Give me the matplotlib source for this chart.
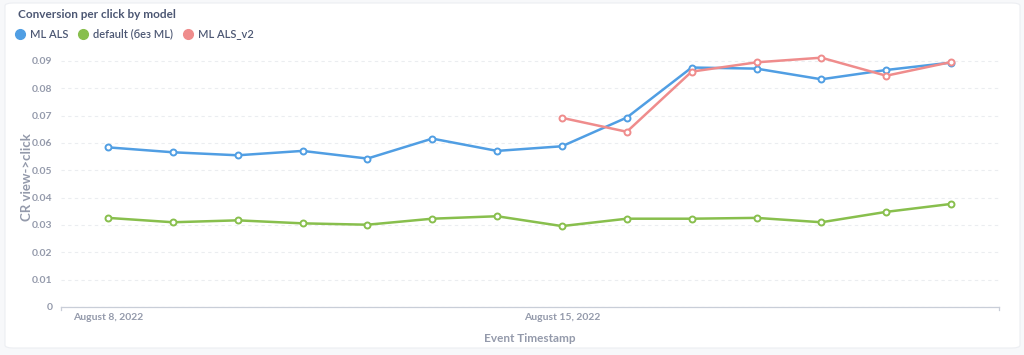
import numpy as np
import matplotlib.pyplot as plt
import matplotlib.dates as mdates
from matplotlib.lines import Line2D
from matplotlib.patches import FancyBboxPatch

# dane
dates = np.arange(np.datetime64('2022-08-08'), np.datetime64('2022-08-22'))
ml_als = [0.0584, 0.0566, 0.0555, 0.0571, 0.0543, 0.0616, 0.0571,
          0.0588, 0.0693, 0.0876, 0.0872, 0.0833, 0.0867, 0.0894]
default_ml = [0.0326, 0.0310, 0.0317, 0.0306, 0.0301, 0.0323, 0.0332,
              0.0296, 0.0323, 0.0323, 0.0326, 0.0310, 0.0348, 0.0377]
ml_als_v2_dates = dates[7:]
ml_als_v2 = [0.0692, 0.0641, 0.0861, 0.0895, 0.0912, 0.0846, 0.0896]

series_names = ['ML ALS', 'default (без ML)', 'ML ALS_v2']
colors = ['#509EE3', '#88BF4D', '#EF8C8C']
y_ticks = [0, 0.01, 0.02, 0.03, 0.04, 0.05, 0.06, 0.07, 0.08, 0.09]
y_tick_labels = ['0', '0.01', '0.02', '0.03', '0.04', '0.05', '0.06', '0.07', '0.08', '0.09']

plt.rcParams['font.family'] = ['Lato', 'DejaVu Sans']
text_dark = '#4C5773'
text_light = '#949AAB'

fig = plt.figure(figsize=(10.24, 3.55), dpi=100)
fig.patch.set_facecolor('#F7F8FA')

# biała karta pod wykresem
card = FancyBboxPatch((5 / 1024, 7 / 355), 1015 / 1024, 345 / 355,
                      boxstyle='round,pad=0,rounding_size=0.008',
                      transform=fig.transFigure, facecolor='white',
                      edgecolor='#ECEEF2', linewidth=0.8, zorder=-10)
fig.patches.append(card)

ax = fig.add_axes([61 / 1024, 1 - 307 / 355, 938 / 1024, (307 - 47.3) / 355])
ax.set_facecolor('none')

# zakres osi x: 47 px przed pierwszym dniem, 48 px po ostatnim (64.85 px na dzień)
x0 = mdates.date2num(dates[0])
day = 64.85
ax.set_xlim(x0 - 47 / day, x0 + 891 / day)
ax.set_ylim(0, 0.095)

line_kw = dict(linewidth=1.8, marker='o', markersize=4.3, markerfacecolor='white',
               markeredgewidth=1.4, zorder=3)
ax.plot(dates, ml_als, color=colors[0], **line_kw)
ax.plot(dates, default_ml, color=colors[1], **line_kw)
ax.plot(ml_als_v2_dates, ml_als_v2, color=colors[2], **line_kw)

ax.set_yticks(y_ticks)
ax.set_yticklabels(y_tick_labels)
ax.yaxis.grid(True, linestyle=(0, (3, 3)), color='#EBEDF0', linewidth=0.8)
ax.set_axisbelow(True)

ax.set_xticks([dates[0], dates[7]])
ax.set_xticklabels(['August 8, 2022', 'August 15, 2022'])
ax.tick_params(axis='both', length=0, labelsize=7.5, labelcolor=text_light, pad=6)
ax.tick_params(axis='x', pad=4)
for lbl in ax.get_xticklabels() + ax.get_yticklabels():
    lbl.set_fontweight('bold')

for s in ['top', 'right', 'left']:
    ax.spines[s].set_visible(False)
ax.spines['bottom'].set_color('#C9CED8')
ax.spines['bottom'].set_linewidth(0.9)
# małe kreski na końcach osi x
xl = ax.get_xlim()
ax.plot([xl[0], xl[0]], [0, -0.0012], color='#C9CED8', lw=0.9, clip_on=False)
ax.plot([xl[1], xl[1]], [0, -0.0012], color='#C9CED8', lw=0.9, clip_on=False)

ax.set_ylabel('CR view->click', fontsize=9.5, fontweight='bold', color=text_light, labelpad=-1)
ax.set_xlabel('Event Timestamp', fontsize=8.5, fontweight='bold', color=text_light, labelpad=8)

fig.text(18 / 1024, 1 - 15 / 355, 'Conversion per click by model', fontsize=8.5,
         fontweight='bold', color=text_dark, va='center', ha='left')

handles = [Line2D([], [], linestyle='none', marker='o', markersize=7,
                  color=c) for c in colors]
leg = fig.legend(handles, series_names, loc='center left',
                 bbox_to_anchor=(17 / 1024, 1 - 34 / 355), ncol=3, frameon=False,
                 handlelength=0.6, handletextpad=0.6, columnspacing=1.0,
                 fontsize=8, borderpad=0, borderaxespad=0)
for t in leg.get_texts():
    t.set_color(text_dark)
    t.set_fontweight('semibold')

fig.savefig('out.png', dpi=100, facecolor=fig.get_facecolor())
